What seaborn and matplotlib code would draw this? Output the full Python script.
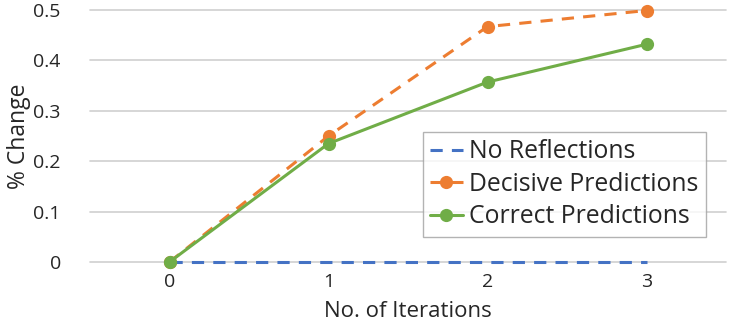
import matplotlib
matplotlib.use("Agg")
import matplotlib.pyplot as plt
import seaborn as sns
import pandas as pd

iterations = [0, 1, 2, 3]
no_reflections = [0.0, 0.0, 0.0, 0.0]
decisive = [0.0, 0.25, 0.467, 0.499]
correct = [0.0, 0.235, 0.357, 0.432]
y_ticks = [0, 0.1, 0.2, 0.3, 0.4, 0.5]
y_tick_labels = ["0", "0.1", "0.2", "0.3", "0.4", "0.5"]

sns.set_style("white")
plt.rcParams['font.family'] = ['Open Sans', 'DejaVu Sans']

fig = plt.figure(figsize=(7.31, 3.24), dpi=100)
ax = fig.add_axes([90/731, 62/324, 636/731, 252/324])

df_nr = pd.DataFrame({"x": iterations, "y": no_reflections})
df_d = pd.DataFrame({"x": iterations, "y": decisive})
df_c = pd.DataFrame({"x": iterations, "y": correct})

for v in y_ticks:
    ax.axhline(v, color="#D0D0D0", lw=1.2, zorder=0, clip_on=False)

sns.lineplot(data=df_nr, x="x", y="y", ax=ax, color="#4472C4", lw=2.2,
             label="No Reflections", zorder=3, clip_on=False)
ax.lines[-1].set_dashes([4, 3])
sns.lineplot(data=df_d, x="x", y="y", ax=ax, color="#ED7D31", lw=2.2,
             marker="o", markersize=9.5, markeredgewidth=0,
             label="Decisive Predictions", zorder=4, clip_on=False)
ax.lines[-1].set_dashes([4, 3])
sns.lineplot(data=df_c, x="x", y="y", ax=ax, color="#70AD47", lw=2.2,
             marker="o", markersize=9.5, markeredgewidth=0,
             label="Correct Predictions", zorder=5, clip_on=False)

ax.set_xlim(-0.5, 3.5)
ax.set_ylim(0, 0.5)
ax.set_xticks(iterations)
ax.set_xticklabels([str(i) for i in iterations], fontsize=14)
ax.set_yticks(y_ticks)
ax.set_yticklabels(y_tick_labels, fontsize=14)
ax.tick_params(axis="x", length=0, pad=8)
ax.tick_params(axis="y", length=0, pad=21)
for s in ax.spines.values():
    s.set_visible(False)
ax.set_xlabel("No. of Iterations", fontsize=16, labelpad=7)
ax.set_ylabel("% Change", fontsize=16.5, labelpad=2)

leg = ax.legend(loc="upper left", bbox_to_anchor=(423/731, 1 - 132/324),
                bbox_transform=fig.transFigure, fontsize=17.8, frameon=True,
                fancybox=False, edgecolor="#A0A0A0", handlelength=1.3,
                handletextpad=0.25, borderpad=0.3, labelspacing=0.3,
                borderaxespad=0)
leg.get_frame().set_linewidth(1.0)

fig.savefig("out.png", dpi=100)
